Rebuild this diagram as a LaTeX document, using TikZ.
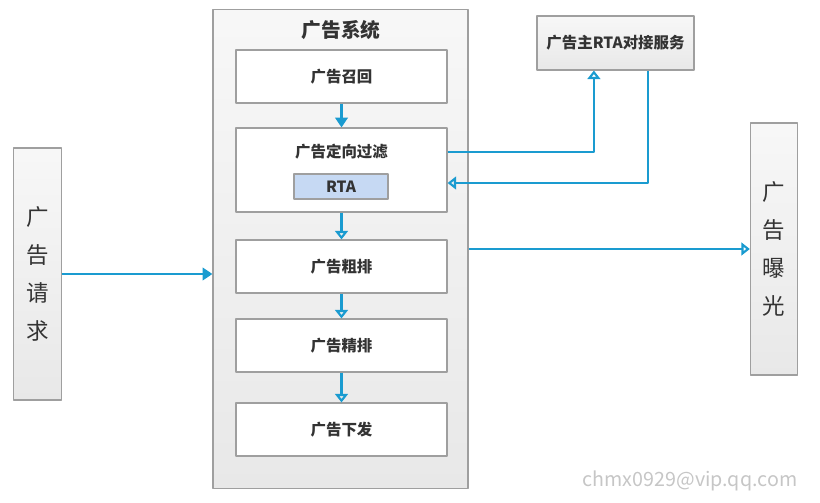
\documentclass[tikz,border=0pt]{standalone}
\usepackage{fontspec}
\setmainfont{Noto Sans CJK SC}
\usetikzlibrary{arrows.meta}
\definecolor{flowblue}{HTML}{1A9BD0}
\definecolor{rtablue}{HTML}{C6D9F3}
\definecolor{labelgray}{HTML}{333333}

\begin{document}
\begin{tikzpicture}[x=0.025cm, y=-0.025cm, line join=round,
    sysbox/.style={draw=gray!75, top color=gray!6, bottom color=gray!18, line width=0.8pt},
    stagebox/.style={draw=gray!75, fill=white, line width=0.8pt, minimum width=5.275cm, minimum height=1.325cm, text=labelgray, font=\fontsize{11}{13}\selectfont},
    sidebox/.style={sysbox, minimum width=1.18cm, minimum height=6.3cm, align=center, text=labelgray, font=\fontsize{16}{27}\selectfont},
    flow/.style={draw=flowblue, line width=1.5pt},
    solidhead/.style={-{Triangle[length=7pt, width=9pt]}},
    openhead/.style={-{Triangle[open, length=6pt, width=9pt]}}]
    \useasboundingbox (0,0) rectangle (820,503);

    % 广告系统
    \node[sysbox, minimum width=6.375cm, minimum height=11.95cm] (system) at (340.5,249) {};
    \node[text=labelgray, font=\fontsize{14}{16}\selectfont\bfseries] (systitle) at (341,30) {广告系统};

    \node[stagebox] (recall) at (341.5,76.5) {\bfseries 广告召回};
    \node[stagebox, minimum height=2.1cm] (filter) at (341.5,170) {};
    \node[text=labelgray, font=\fontsize{11}{13}\selectfont\bfseries] (filtertitle) at (341.5,152) {广告定向过滤};
    \node[draw=gray!75, fill=rtablue, line width=0.8pt, minimum width=2.35cm, minimum height=0.625cm, text=labelgray, font=\fontsize{11}{13}\selectfont\bfseries] (rta) at (341,186.5) {RTA};
    \node[stagebox] (coarse) at (341.5,266.5) {\bfseries 广告粗排};
    \node[stagebox] (fine) at (341.5,345.5) {\bfseries 广告精排};
    \node[stagebox] (deliver) at (341.5,429.5) {\bfseries 广告下发};

    % 两侧
    \node[sidebox] (request) at (37.5,274) {广\\告\\请\\求};
    \node[sidebox] (exposure) at (774,249) {广\\告\\曝\\光};
    \node[sysbox, minimum width=3.925cm, minimum height=1.35cm, text=labelgray, font=\fontsize{11}{13}\selectfont\bfseries] (service) at (615.5,43) {广告主RTA对接服务};

    \coordinate (svcin) at ([xshift=-0.54cm]service.south);
    \coordinate (svcout) at ([xshift=0.81cm]service.south);
    \coordinate (filterout) at ([yshift=0.45cm]filter.east);
    \coordinate (filterin) at ([yshift=-0.325cm]filter.east);

    % 连线
    \draw[flow, solidhead] (recall) -- (filter);
    \draw[flow, openhead] (filter) -- (coarse);
    \draw[flow, openhead] (coarse) -- (fine);
    \draw[flow, openhead] (fine) -- (deliver);
    \draw[flow, solidhead] (request.east) -- (request.east -| system.west);
    \draw[flow, openhead] (system.east) -- (system.east -| exposure.west);
    \draw[flow, openhead] (filterout) -| (svcin);
    \draw[flow, openhead] (svcout) |- (filterin);

    \node[text=gray!45, font=\fontsize{14}{16}\selectfont] (mark) at (690,481) {chmx0929@vip.qq.com};
\end{tikzpicture}
\end{document}
